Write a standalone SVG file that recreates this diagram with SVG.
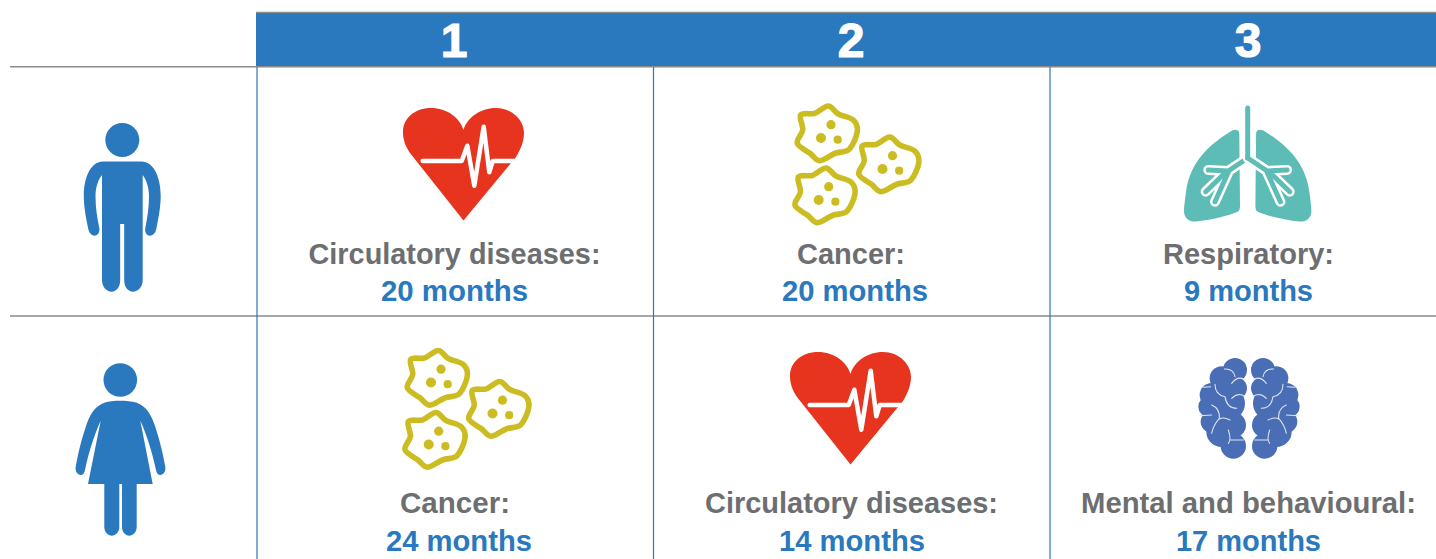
<svg xmlns="http://www.w3.org/2000/svg" width="1436" height="559" viewBox="0 0 1436 559">
<style>
text{font-family:"Liberation Sans",Arial,sans-serif;font-weight:700;text-anchor:middle}
.num{font-size:48px;fill:#fff;stroke:#fff;stroke-width:1.2}
.lab{font-size:29px;fill:#6d6e70}
.val{font-size:29px;fill:#2a78bd}
.gl{stroke:#8a8a8a;stroke-width:1.5;fill:none}
.vl{stroke:#2a78bd;stroke-width:1.2;fill:none}
.person{fill:#2a78bd}
.heart{fill:#e7341f}
.ecg{fill:none;stroke:#fff;stroke-width:4.500;stroke-linecap:round;stroke-linejoin:round}
.blob{fill:none;stroke:#cbbc22;stroke-width:5.600;stroke-linejoin:round}
.dot{fill:#cbbc22}
.lung{fill:#5dbcb5}
.halo{fill:none;stroke:#fff;stroke-width:10;stroke-linecap:round;stroke-linejoin:round}
.br{fill:none;stroke:#5dbcb5;stroke-width:5;stroke-linecap:round;stroke-linejoin:round}
.brain{fill:#4a6eb5}
.sulc{fill:none;stroke:#dfe5f2;stroke-width:3.200;stroke-linecap:round;stroke-linejoin:round}
</style>
<defs>
<g id="heart-icon">
<path class="heart" d="M463.5 220.5L410 153C405.500 146 403 140 403 132C403 118 415 108 431 108C447 108 460 118 463.500 130C467 118 480 108 496 108C512 108 524 120 524 133C524 143 519 152 516 157L511 163Z"/>
<path class="ecg" d="M422.700 161H461.700L467.300 145.700L474.300 185.700L483.700 126.700L489.300 172.300L492.700 161H514"/>
</g>
<g id="blob-one">
<path class="blob" d="M828.300 106C832.200 106.100 834.100 111.700 838.300 114C842.500 116.300 850.100 117 853.300 120C856.500 123 858 126.800 857.300 131.700C856.600 136.600 853 145.700 849.300 149.300C845.600 152.900 839.900 151.400 835 153.300C830.100 155.200 824.200 160.700 820 160.700C815.800 160.700 813.800 156.200 810 153.300C806.200 150.400 798.500 147.200 797.300 143.300C796.100 139.400 802.100 134.700 802.700 130C803.300 125.300 798.700 117.800 800.700 115C802.700 112.200 810.400 114.800 815 113.300C819.600 111.800 824.400 105.900 828.300 106Z"/>
<circle class="dot" cx="831" cy="124.700" r="4.600"/>
<circle class="dot" cx="821" cy="138" r="5"/>
<circle class="dot" cx="837.700" cy="139.700" r="4.100"/>
</g>
<g id="blobs-icon">
<use href="#blob-one"/>
<use href="#blob-one" transform="translate(61.500 31)"/>
<use href="#blob-one" transform="translate(-2.300 62)"/>
</g>
<g id="lung-half">
<path class="lung" d="M1239.300 134C1239.300 130 1236 129 1232 130.500C1212 143 1190 160 1186 192C1185 200 1184 207 1184 211C1184 219 1190 222 1196 221.500C1210 220 1228 216 1237 212C1239 211 1240 210 1240 205Z"/>
<path class="halo" d="M1247.700 158L1228.300 171L1208.300 170M1226 172L1205.700 191.700M1228.300 172.300L1215 201.700"/>
<path class="br" d="M1247.700 158L1228.300 171L1208.300 170M1226 172L1205.700 191.700M1228.300 172.300L1215 201.700"/>
</g>
<g id="brain-half">
<circle class="brain" cx="165" cy="75" r="36"/>
<circle class="brain" cx="125" cy="100" r="36"/>
<circle class="brain" cx="95" cy="150" r="36"/>
<circle class="brain" cx="86" cy="185" r="31"/>
<circle class="brain" cx="95" cy="230" r="33"/>
<circle class="brain" cx="125" cy="260" r="46"/>
<circle class="brain" cx="160" cy="303" r="38"/>
<circle class="brain" cx="168" cy="130" r="33"/>
<circle class="brain" cx="160" cy="240" r="38"/>
<circle class="brain" cx="145" cy="175" r="50"/>
<path class="sulc" d="M133 72Q160 70 165 95M155 115Q175 90 195 105M105 118Q105 150 135 155Q140 190 170 190M155 160Q175 140 195 155M70 127L92 125M95 180Q120 190 118 220Q100 240 95 265M118 222Q130 215 150 225M60 212L95 210M145 255Q155 285 145 295M150 285L190 285"/>
</g>
</defs>
<g id="grid">
<rect id="header-bar" x="256" y="12" width="1180" height="54.500" fill="#2a78bd"/>
<path class="gl" d="M256 12.500H1436M10 66.800H1436M10 316H1436"/>
<path class="vl" d="M257 67V559M653.500 67V559M1050 67V559"/>
</g>
<g id="header-1"><text class="num" x="454" y="57">1</text></g>
<g id="header-2"><text class="num" x="851" y="57">2</text></g>
<g id="header-3"><text class="num" x="1248" y="57">3</text></g>
<g id="man">
<ellipse class="person" cx="122.300" cy="140" rx="17" ry="17"/>
<path class="person" d="M103 161.500H141.500C153 161.500 160.700 176 160.700 196C160.700 208 158 220 156.300 229C155.500 233 152.500 235.700 150 235.700C146.500 235.700 144.500 232 145.300 228C147.300 218 149 208 149 196C149 187 146 179 142.700 175V280C142.700 287 138 291.700 133 291.700C128 291.700 124.200 287 124.200 280V224H120.200V280C120.200 287 116.500 291.700 111.500 291.700C106.500 291.700 102 287 102 280V175C98.500 179 95.500 187 95.500 196C95.500 208 97.300 218 99.300 228C100 232 98 235.700 94.500 235.700C92 235.700 89 233 88.300 229C86.500 220 83.800 208 83.800 196C83.800 176 91.500 161.500 103 161.500Z"/>
</g>
<g id="woman">
<circle class="person" cx="120.300" cy="380" r="16.800"/>
<path class="person" d="M105 402.500C112 400 128 400 136 402.500C146 406 151 414 155 426C159 438 163 453 165.300 467C166 471 163.500 475 160.500 475C158 475 156.500 473 156 470C153 455 147 435 140.300 420.700L152.700 484H136.700V527C136.700 532 133 535.700 129.300 535.700C125.500 535.700 122 532 122 527V484H119.300V527C119.300 532 115.500 535.700 111.800 535.700C108 535.700 104.300 532 104.300 527V484H88L100.700 420.700C94 435 88 455 85 470C84.500 473 83 475 80.500 475C77.500 475 75 471 75.700 467C78 453 82 438 86 426C90 414 95 406 105 402.500Z"/>
</g>
<g id="cell-man-1">
<use href="#heart-icon"/>
<text class="lab" x="454.500" y="264" textLength="292" lengthAdjust="spacingAndGlyphs">Circulatory diseases:</text>
<text class="val" x="454.500" y="301" textLength="147" lengthAdjust="spacingAndGlyphs">20 months</text>
</g>
<g id="cell-man-2">
<use href="#blobs-icon"/>
<text class="lab" x="851" y="264" textLength="108" lengthAdjust="spacingAndGlyphs">Cancer:</text>
<text class="val" x="855" y="301" textLength="146" lengthAdjust="spacingAndGlyphs">20 months</text>
</g>
<g id="cell-man-3">
<use href="#lung-half"/>
<use href="#lung-half" transform="translate(2495.400 0) scale(-1 1)"/>
<path class="br" d="M1247.700 108V158"/>
<text class="lab" x="1248.500" y="264" textLength="171" lengthAdjust="spacingAndGlyphs">Respiratory:</text>
<text class="val" x="1248.500" y="301" textLength="129" lengthAdjust="spacingAndGlyphs">9 months</text>
</g>
<g id="cell-woman-1">
<use href="#blobs-icon" transform="translate(-390 244.500)"/>
<text class="lab" x="455" y="513" textLength="110" lengthAdjust="spacingAndGlyphs">Cancer:</text>
<text class="val" x="459" y="551" textLength="146" lengthAdjust="spacingAndGlyphs">24 months</text>
</g>
<g id="cell-woman-2">
<use href="#heart-icon" transform="translate(387 244)"/>
<text class="lab" x="851.500" y="513" textLength="293" lengthAdjust="spacingAndGlyphs">Circulatory diseases:</text>
<text class="val" x="852" y="551" textLength="146" lengthAdjust="spacingAndGlyphs">14 months</text>
</g>
<g id="cell-woman-3">
<g transform="translate(1180 345) scale(.33333)">
<use href="#brain-half"/>
<use href="#brain-half" transform="translate(414 0) scale(-1 1)"/>
</g>
<text class="lab" x="1248.500" y="513" textLength="335" lengthAdjust="spacingAndGlyphs">Mental and behavioural:</text>
<text class="val" x="1248.500" y="551" textLength="145" lengthAdjust="spacingAndGlyphs">17 months</text>
</g>
</svg>
